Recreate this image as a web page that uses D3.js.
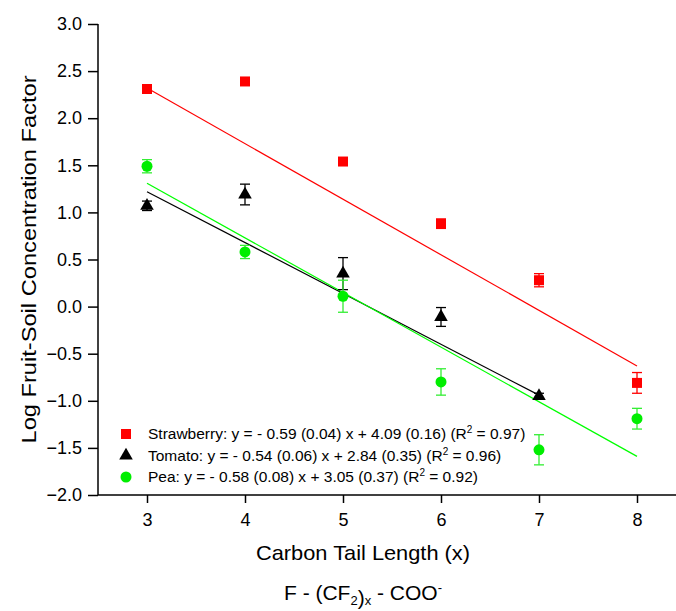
<!DOCTYPE html>
<html>
<head>
<meta charset="utf-8">
<script src="https://cdn.jsdelivr.net/npm/d3@7"></script>
<style>
  body { margin: 0; background: #fff; }
  text { font-family: Arial, "Liberation Sans", sans-serif; }
</style>
</head>
<body>
<div id="chart"></div>
<script>
// Data
var tailLength = [3, 4, 5, 6, 7, 8];
var strawberry    = [2.31, 2.39, 1.54, 0.88, 0.28, -0.81];
var strawberryErr = [0.02, 0.02, 0.02, 0.05, 0.07, 0.11];
var tomatoX   = [3, 4, 5, 6, 7];
var tomato    = [1.07, 1.19, 0.35, -0.11, -0.95];
var tomatoErr = [0.05, 0.11, 0.17, 0.10, 0.03];
var pea    = [1.49, 0.58, 0.11, -0.80, -1.52, -1.19];
var peaErr = [0.07, 0.07, 0.17, 0.14, 0.16, 0.11];

// fitted lines: slope, intercept, x range
var fits = [
  {name: "Strawberry", slope: -0.59, intercept: 4.09, from: 3, to: 8, color: "#ff0000"},
  {name: "Tomato", slope: -0.54, intercept: 2.84, from: 3, to: 7, color: "#000000"},
  {name: "Pea", slope: -0.58, intercept: 3.05, from: 3, to: 8, color: "#00ff00"}
];
var legendLabels = [
  {pre: "Strawberry: y = - 0.59 (0.04) x + 4.09 (0.16) (R", post: " = 0.97)"},
  {pre: "Tomato: y = - 0.54 (0.06) x + 2.84 (0.35) (R", post: " = 0.96)"},
  {pre: "Pea: y = - 0.58 (0.08) x + 3.05 (0.37) (R", post: " = 0.92)"}
];

var W = 676, H = 611;
var svg = d3.select("#chart").append("svg")
    .attr("width", W).attr("height", H);

var x = d3.scaleLinear().domain([2.5, 8.5]).range([98, 686]);
var y = d3.scaleLinear().domain([-2, 3]).range([495, 24]);

// Y axis, major + minor ticks
var yMajor = d3.range(-2, 3.01, 0.5);
var yMinor = d3.range(-1.75, 3, 0.5);
var gy = svg.append("g").attr("transform", "translate(" + x(2.5) + ",0)");
gy.call(d3.axisLeft(y).tickValues(yMinor).tickSize(5).tickFormat(""));
gy.call(d3.axisLeft(y).tickValues(yMajor).tickSize(10).tickPadding(6).tickFormat(d3.format(".1f")));
gy.selectAll("path.domain").remove();
gy.append("line").attr("x1", 0).attr("x2", 0).attr("y1", y(3)).attr("y2", y(-2))
    .attr("stroke", "#000").attr("stroke-width", 1.5);
gy.selectAll(".tick line").attr("stroke-width", 1.5);
gy.selectAll(".tick text").style("font-size", "18px").attr("fill", "#000");

// X axis
var gx = svg.append("g").attr("transform", "translate(0," + y(-2) + ")");
gx.call(d3.axisBottom(x).tickValues(tailLength).tickSize(8).tickPadding(10).tickFormat(d3.format("d")));
gx.select("path.domain").remove();
gx.append("line").attr("x1", x(2.5)).attr("x2", W).attr("y1", 0).attr("y2", 0)
    .attr("stroke", "#000").attr("stroke-width", 1.5);
gx.selectAll(".tick line").attr("stroke-width", 1.5);
gx.selectAll(".tick text").style("font-size", "18px").attr("fill", "#000");

// Axis titles
svg.append("text")
    .attr("transform", "translate(36," + y(0.5) + ") rotate(-90)")
    .attr("text-anchor", "middle")
    .style("font-size", "21px")
    .attr("textLength", 368).attr("lengthAdjust", "spacingAndGlyphs")
    .text("Log Fruit-Soil Concentration Factor");

svg.append("text")
    .attr("x", 363).attr("y", 560)
    .attr("text-anchor", "middle")
    .style("font-size", "21px")
    .attr("textLength", 214).attr("lengthAdjust", "spacingAndGlyphs")
    .text("Carbon Tail Length (x)");

var f = svg.append("text")
    .attr("x", 363).attr("y", 600)
    .attr("text-anchor", "middle")
    .style("font-size", "21px");
f.append("tspan").text("F - (CF");
f.append("tspan").attr("dy", 5).style("font-size", "13px").text("2");
f.append("tspan").attr("dy", 0).text(")");
f.append("tspan").attr("dy", 0).style("font-size", "13px").text("x");
f.append("tspan").attr("dy", -5).text(" - COO");
f.append("tspan").attr("dy", -8).style("font-size", "13px").text("-");

// Fit lines
svg.selectAll(".fit").data(fits).enter().append("line")
    .attr("class", "fit")
    .attr("x1", d => x(d.from)).attr("x2", d => x(d.to))
    .attr("y1", d => y(d.slope * d.from + d.intercept))
    .attr("y2", d => y(d.slope * d.to + d.intercept))
    .attr("stroke", d => d.color).attr("stroke-width", 1.2);

function errorBars(xs, vals, errs, color) {
  var g = svg.append("g").attr("stroke", color).attr("stroke-width", 1.3);
  xs.forEach(function(xv, i) {
    var cx = x(xv), top = y(vals[i] + errs[i]), bot = y(vals[i] - errs[i]);
    g.append("line").attr("x1", cx).attr("x2", cx).attr("y1", top).attr("y2", bot);
    g.append("line").attr("x1", cx - 5).attr("x2", cx + 5).attr("y1", top).attr("y2", top);
    g.append("line").attr("x1", cx - 5).attr("x2", cx + 5).attr("y1", bot).attr("y2", bot);
  });
}

errorBars(tailLength, strawberry, strawberryErr, "#ff0000");
errorBars(tomatoX, tomato, tomatoErr, "#000000");
errorBars(tailLength, pea, peaErr, "#33ee33");

var sym = {
  square: d3.symbol().type(d3.symbolSquare).size(100),
  triangle: d3.symbol().type(d3.symbolTriangle).size(80),
  circle: d3.symbol().type(d3.symbolCircle).size(95)
};

svg.selectAll(".sq").data(strawberry).enter().append("path")
    .attr("d", sym.square)
    .attr("transform", (d, i) => "translate(" + x(tailLength[i]) + "," + y(d) + ")")
    .attr("fill", "#ff0000");
svg.selectAll(".tri").data(tomato).enter().append("path")
    .attr("d", sym.triangle)
    .attr("transform", (d, i) => "translate(" + x(tomatoX[i]) + "," + y(d) + ")")
    .attr("fill", "#000000");
svg.selectAll(".ci").data(pea).enter().append("path")
    .attr("d", sym.circle)
    .attr("transform", (d, i) => "translate(" + x(tailLength[i]) + "," + y(d) + ")")
    .attr("fill", "#00ee00");

// Legend
var legendSyms = [sym.square, sym.triangle, sym.circle];
var legendColors = ["#ff0000", "#000000", "#00ee00"];
legendLabels.forEach(function(l, i) {
  var ly = 434 + i * 21.5;
  svg.append("path").attr("d", legendSyms[i])
      .attr("transform", "translate(126," + ly + ")")
      .attr("fill", legendColors[i]);
  var t = svg.append("text").attr("x", 148).attr("y", ly + 5).style("font-size", "15.5px");
  t.append("tspan").text(l.pre);
  t.append("tspan").attr("dy", -6).style("font-size", "10px").text("2");
  t.append("tspan").attr("dy", 6).text(l.post);
});
</script>
</body>
</html>
